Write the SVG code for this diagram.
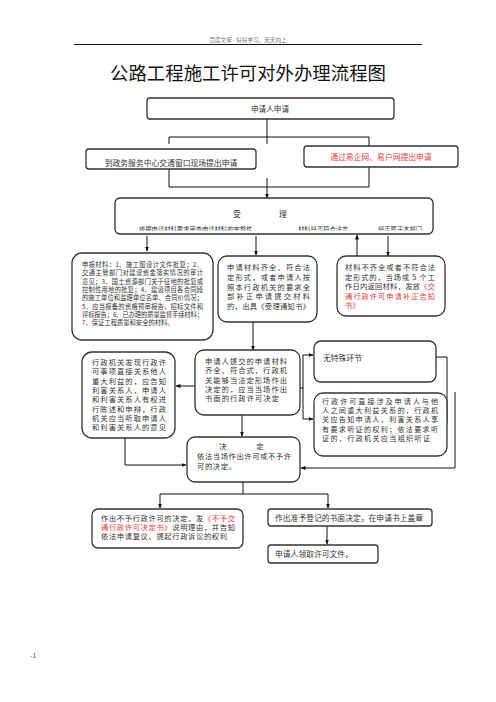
<svg xmlns="http://www.w3.org/2000/svg" width="496" height="702" viewBox="0 0 496 702">
<defs>
<style>
.b{fill:#fff;stroke:#333;stroke-width:1.3}
.t{font-family:"Noto Sans CJK SC","Liberation Serif",serif;font-size:7.8px;fill:#333}
.s{font-size:6.3px}
.m{font-size:7.3px}
.r{fill:#f03a3a}
.c{fill:none;stroke:#111;stroke-width:1}
</style>
<marker id="a" markerWidth="5" markerHeight="5" refX="4.5" refY="2.5" orient="auto" markerUnits="userSpaceOnUse"><path d="M0,0.5 L5,2.5 L0,4.5 Z" fill="#111"/></marker>
<clipPath id="cl"><rect x="110" y="195" width="330" height="35.5"/></clipPath>
</defs>
<rect width="496" height="702" fill="#fff"/>
<text x="248" y="42" text-anchor="middle" class="t" style="font-size:5.6px;fill:#777">百度文库 - 好好学习，天天向上</text>
<line x1="74" y1="44.5" x2="422" y2="44.5" stroke="#111" stroke-width="1"/>
<text x="248" y="80" text-anchor="middle" style="font-family:'Noto Sans CJK SC',sans-serif;font-size:18.4px;fill:#111">公路工程施工许可对外办理流程图</text>

<g id="connectors">
<path class="c" d="M267,119 V137 M169,144 V137 H369 V146 M267,137 V144"/>
<path class="c" d="M169,169 V187 H369 V167"/>
<path class="c" d="M267,178 V198" marker-end="url(#a)"/>
<path class="c" d="M147,236 V251" marker-end="url(#a)"/>
<path class="c" d="M256,236 V255" marker-end="url(#a)"/>
<path class="c" d="M357,256 V235" marker-end="url(#a)"/>
<path class="c" d="M388,236 V256" marker-end="url(#a)"/>
<path class="c" d="M253,322 V350" marker-end="url(#a)"/>
<path class="c" d="M195,386 H176" marker-end="url(#a)"/>
<path class="c" d="M300,388 H303 M303,355 V419"/>
<path class="c" d="M303,355 H313" marker-end="url(#a)"/>
<path class="c" d="M303,419 H313" marker-end="url(#a)"/>
<path class="c" d="M436,357 H447 V423"/>
<path class="c" d="M455,392 V468 H301" marker-end="url(#a)"/>
<path class="c" d="M242,415 V436" marker-end="url(#a)"/>
<path class="c" d="M125,438 V465 H186" marker-end="url(#a)"/>
<path class="c" d="M243,482 V494 M160,494 H328"/>
<path class="c" d="M160,494 V508" marker-end="url(#a)"/>
<path class="c" d="M328,494 V508" marker-end="url(#a)"/>
<path class="c" d="M327,526 V544" marker-end="url(#a)"/>
</g>

<g id="n1"><rect class="b" x="147" y="98" width="247" height="21" rx="3"/>
<text class="t" x="270" y="112" text-anchor="middle" style="font-size:7.6px">申请人申请</text></g>

<g id="n2"><rect class="b" x="86" y="149" width="170" height="20" rx="3"/>
<text class="t" x="171" y="165.5" text-anchor="middle">到政务服务中心交通窗口现场提出申请</text></g>

<g id="n3"><rect class="b" x="304" y="146" width="154" height="21" rx="3"/>
<text class="t r" x="381" y="159.5" text-anchor="middle">通过易企网、易户网提出申请</text></g>

<g id="n4"><rect class="b" x="115" y="198" width="318" height="36" rx="5"/>
<text class="t" x="237" y="217" text-anchor="middle">受</text>
<text class="t" x="283" y="217" text-anchor="middle">理</text>
<g clip-path="url(#cl)"><text class="t s" x="139" y="231.5">依据申请材料要求审查申请材料的完整性、<tspan x="298">材料是否符合法定</tspan><tspan x="378">是否属于本部门</tspan></text></g></g>

<g id="n5"><rect class="b" x="72" y="253" width="141" height="87" rx="10"/>
<g class="t s">
<text x="82" y="267" textLength="121" lengthAdjust="spacing">申报材料：1、施工图设计文件批复；2、</text>
<text x="82" y="275.3" textLength="121" lengthAdjust="spacing">交通主管部门对建设资金落实情况的审计</text>
<text x="82" y="283.6" textLength="121" lengthAdjust="spacing">意见；3、国土资源部门关于征地的批复或</text>
<text x="82" y="291.9" textLength="121" lengthAdjust="spacing">控制性用地的批复；4、建设项目各合同段</text>
<text x="82" y="300.2" textLength="121" lengthAdjust="spacing">的施工单位和监理单位名单、合同价情况；</text>
<text x="82" y="308.5" textLength="121" lengthAdjust="spacing">5、应当报备的资格预审报告，招标文件和</text>
<text x="82" y="316.8" textLength="121" lengthAdjust="spacing">评标报告；6、已办理的质量监督手续材料；</text>
<text x="82" y="325.1">7、保证工程质量和安全的材料。</text>
</g></g>

<g id="n6"><rect class="b" x="218" y="256" width="99" height="66" rx="9"/>
<g class="t m">
<text x="227" y="270" textLength="83" lengthAdjust="spacing">申请材料齐全、符合法</text>
<text x="227" y="279.8" textLength="83" lengthAdjust="spacing">定形式，或者申请人按</text>
<text x="227" y="289.6" textLength="83" lengthAdjust="spacing">照本行政机关的要求全</text>
<text x="227" y="299.4" textLength="83" lengthAdjust="spacing">部补正申请提交材料</text>
<text x="227" y="309.2" textLength="83" lengthAdjust="spacing">的，出具《受理通知书》</text>
</g></g>

<g id="n7"><rect class="b" x="337" y="256" width="108" height="60" rx="9"/>
<g class="t m">
<text x="345" y="270" textLength="90" lengthAdjust="spacing">材料不齐全或者不符合法</text>
<text x="345" y="279.5" textLength="90" lengthAdjust="spacing">定形式的，当场或 5 个工</text>
<text x="345" y="289" textLength="90" lengthAdjust="spacing">作日内返回材料，发放<tspan class="r">《交</tspan></text>
<text x="345" y="298.5" textLength="90" lengthAdjust="spacing" class="r">通行政许可申请补正告知</text>
<text x="345" y="308" class="r">书》</text>
</g></g>

<g id="n8"><rect class="b" x="82" y="352" width="93" height="86" rx="10"/>
<g class="t m">
<text x="92" y="365" textLength="74" lengthAdjust="spacing">行政机关发现行政许</text>
<text x="92" y="374.3" textLength="74" lengthAdjust="spacing">可事项直接关系他人</text>
<text x="92" y="383.6" textLength="74" lengthAdjust="spacing">重大利益的，应告知</text>
<text x="92" y="392.9" textLength="74" lengthAdjust="spacing">利害关系人，申请人</text>
<text x="92" y="402.2" textLength="74" lengthAdjust="spacing">和利害关系人有权进</text>
<text x="92" y="411.5" textLength="74" lengthAdjust="spacing">行陈述和申辩，行政</text>
<text x="92" y="420.8" textLength="74" lengthAdjust="spacing">机关应当听取申请人</text>
<text x="92" y="430.1" textLength="74" lengthAdjust="spacing">和利害关系人的意见</text>
</g></g>

<g id="n9"><rect class="b" x="195" y="350" width="105" height="65" rx="9"/>
<g class="t m">
<text x="205" y="364" textLength="82" lengthAdjust="spacing">申请人提交的申请材料</text>
<text x="205" y="373.3" textLength="82" lengthAdjust="spacing">齐全、符合式，行政机</text>
<text x="205" y="382.6" textLength="82" lengthAdjust="spacing">关能够当法定形场作出</text>
<text x="205" y="391.9" textLength="82" lengthAdjust="spacing">决定的，应当当场作出</text>
<text x="205" y="401.2" textLength="74" lengthAdjust="spacing">书面的行政许可决定</text>
</g></g>

<g id="n10"><rect class="b" x="314" y="341" width="122" height="41" rx="7"/>
<text class="t" x="323" y="361">无特殊环节</text></g>

<g id="n11"><rect class="b" x="314" y="393" width="133" height="63" rx="9"/>
<g class="t" style="font-size:7.1px">
<text x="322" y="404" textLength="116" lengthAdjust="spacing">行政许可直接涉及申请人与他</text>
<text x="322" y="413.2" textLength="116" lengthAdjust="spacing">人之间重大利益关系的，行政机</text>
<text x="322" y="422.4" textLength="116" lengthAdjust="spacing">关应告知申请人，利害关系人享</text>
<text x="322" y="431.6" textLength="116" lengthAdjust="spacing">有要求听证的权利；依法要求听</text>
<text x="322" y="440.8" textLength="108" lengthAdjust="spacing">证的，行政机关应当组织听证</text>
</g></g>

<g id="n12"><rect class="b" x="187" y="437" width="113" height="45" rx="8"/>
<g class="t m">
<text x="223" y="449" text-anchor="middle">决</text>
<text x="260" y="449" text-anchor="middle">定</text>
<text x="197" y="459" textLength="94" lengthAdjust="spacing">依法当场作出许可或不予许</text>
<text x="197" y="468.5" textLength="39" lengthAdjust="spacing">可的决定。</text>
</g></g>

<g id="n13"><rect class="b" x="92" y="509" width="151" height="39" rx="6"/>
<g class="t m">
<text x="101" y="520.8" textLength="134" lengthAdjust="spacing">作出不予行政许可的决定，发<tspan class="r">《不予交</tspan></text>
<text x="101" y="530.1" textLength="134" lengthAdjust="spacing"><tspan class="r">通行政许可决定书》</tspan>说明理由，并告知</text>
<text x="101" y="539.4" textLength="126" lengthAdjust="spacing">依法申请复议、提起行政诉讼的权利</text>
</g></g>

<g id="n14"><rect class="b" x="268" y="509" width="164" height="17" rx="3"/>
<text class="t" x="275" y="520.5">作出准予登记的书面决定，在申请书上盖章</text></g>

<g id="n15"><rect class="b" x="268" y="545" width="110" height="18" rx="3"/>
<text class="t" x="275" y="557">申请人领取许可文件。</text></g>

<text class="t" x="30" y="658" style="font-size:7px;fill:#555">-1</text>
</svg>
